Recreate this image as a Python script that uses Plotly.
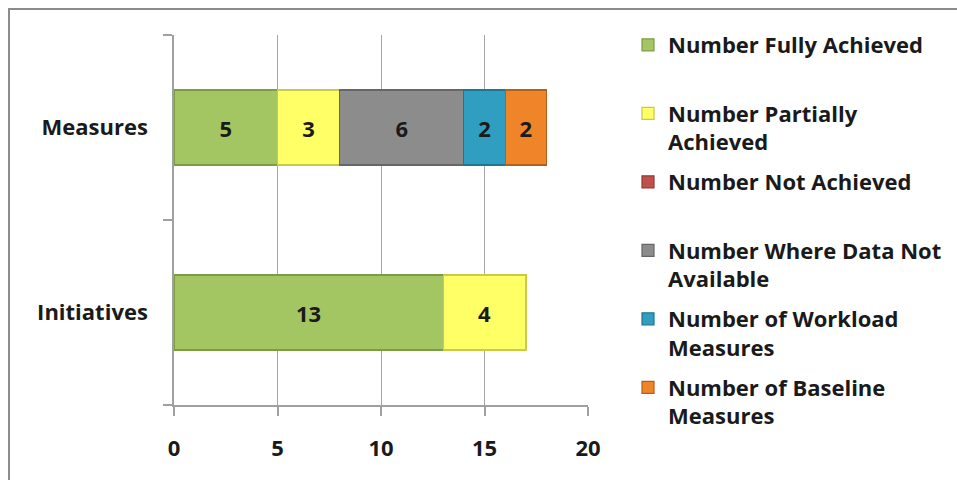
import plotly.graph_objects as go

categories = ["Initiatives", "Measures"]
series_names = [
    "Number Fully Achieved",
    "Number Partially<br>Achieved",
    "Number Not Achieved",
    "Number Where Data Not<br>Available",
    "Number of Workload<br>Measures",
    "Number of Baseline<br>Measures",
]
fully = [13, 5]
partially = [4, 3]
not_achieved = [None, None]
data_na = [None, 6]
workload = [None, 2]
baseline = [None, 2]
x_ticks = [0, 5, 10, 15, 20]

series_values = [fully, partially, not_achieved, data_na, workload, baseline]
fills = ["#A4C662", "#FFFF66", "#C0504D", "#8C8C8C", "#2F9EC0", "#EF8428"]
edges = ["#7E9B45", "#C9C94A", "#8E3A38", "#666666", "#217590", "#B5601A"]

W, H = 957, 480
L, R, T, B = 174, 369, 35, 75
FONT = dict(family="Open Sans", size=22, color="#1a1a1a", weight="bold")

fig = go.Figure()
for i, (name, vals) in enumerate(zip(series_names, series_values)):
    if "<br>" not in name:
        name = name + "<br> "
    txt = ["" if v in (None, 0) else str(v) for v in vals]
    fig.add_trace(go.Bar(
        y=categories, x=vals, orientation="h", name=name,
        legendgroup=f"g{i}",
        marker=dict(color=fills[i], line=dict(color=edges[i], width=1.2)),
        text=txt, textposition="inside", insidetextanchor="middle",
        textfont=FONT, textangle=0, cliponaxis=False,
        hoverinfo="skip",
    ))

pw = W - L - R
ph = H - T - B
fig.update_layout(
    width=W, height=H,
    margin=dict(l=L, r=R, t=T, b=B, pad=0, autoexpand=False),
    barmode="stack", bargap=0.595,
    paper_bgcolor="white", plot_bgcolor="white",
    font=FONT,
    legend=dict(
        x=(628 - L) / pw, y=1 + (T - 24) / ph, xanchor="left", yanchor="top",
        traceorder="grouped", tracegroupgap=8.3, valign="top",
        font=FONT, bgcolor="rgba(0,0,0,0)", maxheight=1.0,
    ),
    xaxis=dict(
        range=[0, 20], tickvals=x_ticks, showgrid=True, gridcolor="#A6A6A6",
        gridwidth=1, zeroline=False, showline=True, linecolor="#A0A0A0",
        linewidth=1.5, ticks="outside", ticklen=9, tickcolor="#A0A0A0",
        tickwidth=1.5, tickfont=FONT, ticklabelstandoff=14, fixedrange=True,
    ),
    yaxis=dict(
        categoryorder="array", categoryarray=categories, range=[-0.5, 1.5],
        showgrid=False, zeroline=False, showline=True, linecolor="#A0A0A0",
        linewidth=1.5, ticks="outside", tickson="boundaries", ticklen=9,
        tickcolor="#A0A0A0", tickwidth=1.5, tickfont=FONT,
        ticklabelstandoff=20, fixedrange=True,
    ),
    showlegend=True,
)

# outer chart frame (top-left corner visible)
fig.add_shape(type="rect", xref="paper", yref="paper",
              x0=(9 - L) / pw, x1=(W + 20 - L) / pw,
              y0=-(H + 20 - (H - B)) / ph, y1=1 + (T - 9) / ph,
              line=dict(color="#8C8C8C", width=2), fillcolor="rgba(0,0,0,0)",
              layer="below")

fig.write_html("out.html")
